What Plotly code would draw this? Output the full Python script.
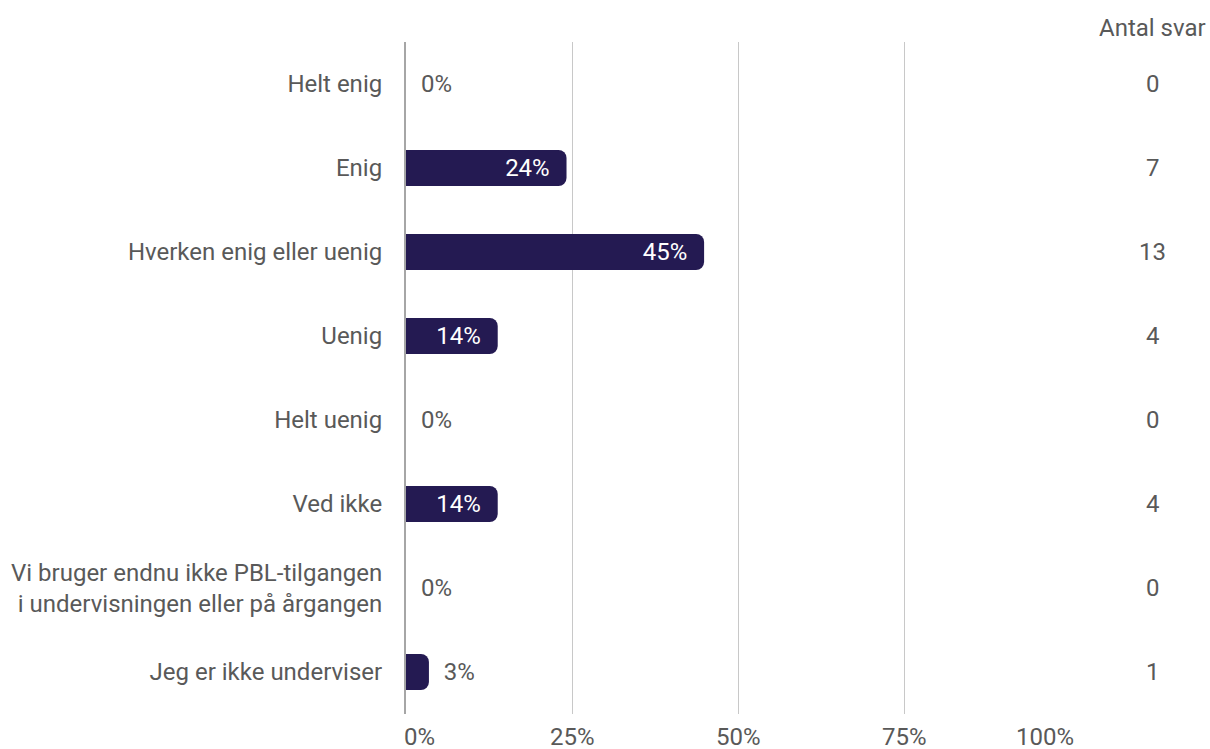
import plotly.graph_objects as go

categories = [
    "Helt enig",
    "Enig",
    "Hverken enig eller uenig",
    "Uenig",
    "Helt uenig",
    "Ved ikke",
    "Vi bruger endnu ikke PBL-tilgangen<br>i undervisningen eller på årgangen",
    "Jeg er ikke underviser",
]
counts = [0, 7, 13, 4, 0, 4, 0, 1]
total = sum(counts)
percents = [c / total * 100 for c in counts]
tick_vals = [0, 25, 50, 75, 100]
tick_text = ["0%", "25%", "50%", "75%", "100%"]

BAR = "#241a52"
TXT = "#595959"
FONT = "Roboto"
FS = 24
NB = "\u00a0"

positions = ["inside" if p >= 10 else "outside" for p in percents]
labels = [
    (f"{round(p)}%" + NB * 2) if pos == "inside" else (NB * 2 + f"{round(p)}%")
    for p, pos in zip(percents, positions)
]

fig = go.Figure()
fig.add_trace(go.Bar(
    y=categories,
    x=percents,
    orientation="h",
    marker=dict(color=BAR, line=dict(width=0)),
    text=labels,
    textposition=positions,
    insidetextanchor="end",
    textfont=dict(family=FONT, size=FS),
    insidetextfont=dict(family=FONT, size=FS, color="white"),
    outsidetextfont=dict(family=FONT, size=FS, color=TXT),
    constraintext="none",
    cliponaxis=False,
    width=0.43,
    hoverinfo="skip",
))

annotations = [dict(
    x=1.1233, y=1.0, xref="paper", yref="paper", yshift=14,
    text="Antal svar", showarrow=False, xanchor="center", yanchor="middle",
    font=dict(family=FONT, size=FS, color=TXT),
)]
for cat, c in zip(categories, counts):
    annotations.append(dict(
        x=1.1233, y=cat, xref="paper", yref="y",
        text=str(c), showarrow=False, xanchor="center", yanchor="middle",
        font=dict(family=FONT, size=FS, color=TXT),
    ))

# x tick labels: edge labels kept inside the axis span, as in the reference
for i, (tv, tt) in enumerate(zip(tick_vals, tick_text)):
    if i == 0:
        anchor, shift = "left", -4
    elif i == len(tick_vals) - 1:
        anchor, shift = "right", 5
    else:
        anchor, shift = "center", 0
    annotations.append(dict(
        x=tv, y=0, xref="x", yref="paper", yshift=-23, xshift=shift,
        text=tt, showarrow=False, xanchor=anchor, yanchor="middle",
        font=dict(family=FONT, size=FS, color=TXT),
    ))

fig.update_layout(
    width=1210, height=749,
    margin=dict(l=406, r=139, t=42, b=35, autoexpand=False),
    paper_bgcolor="white", plot_bgcolor="white",
    barcornerradius=8,
    showlegend=False,
    font=dict(family=FONT, size=FS, color=TXT),
    annotations=annotations,
    xaxis=dict(
        range=[0, 100], tickvals=tick_vals, ticktext=tick_text,
        showticklabels=False,
        showgrid=True, gridcolor="#c8c8c8", gridwidth=1,
        zeroline=False, showline=False, ticks="",
        automargin=False,
        fixedrange=True,
    ),
    yaxis=dict(
        categoryorder="array", categoryarray=categories,
        range=[len(categories) - 0.5, -0.5],
        showline=True, linecolor="#a6a6a6", linewidth=2,
        showgrid=False, zeroline=False, ticks="",
        ticklabelstandoff=17, automargin=False,
        tickfont=dict(family=FONT, size=FS, color=TXT),
        fixedrange=True,
    ),
)

fig.write_html(
    "out.html",
    config={"displayModeBar": False},
    post_script="document.body.style.margin='0';document.body.style.overflow='hidden';",
)
